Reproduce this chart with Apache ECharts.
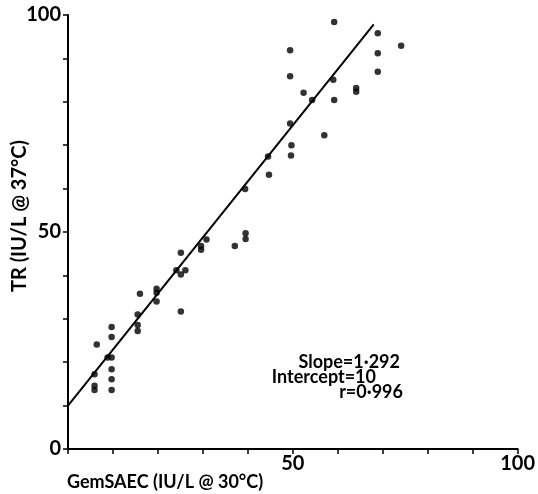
<!DOCTYPE html>
<html>
<head>
<meta charset="utf-8">
<script src="https://cdn.jsdelivr.net/npm/echarts@6/dist/echarts.min.js"></script>
<style>
  html, body { margin: 0; padding: 0; background: #fff; }
  #chart { width: 538px; height: 494px; }
</style>
</head>
<body>
<div id="chart"></div>
<script>
// GemSAEC activity (IU/L at 30 °C) for each sample
const gemSaec = [
  5.9, 5.9, 5.9, 6.4, 8.8, 9.7, 9.7, 9.7, 9.7, 9.7, 9.7,
  15.5, 15.5, 15.5, 16.0, 19.7, 19.7, 19.7,
  24.1, 25.1, 25.1, 25.1, 26.1, 29.6, 29.6, 30.8,
  37.1, 39.4, 39.5, 39.5, 44.5, 44.7,
  49.4, 49.4, 49.4, 49.6, 49.7, 52.4, 54.3, 57.0,
  59.0, 59.2, 59.2, 64.1, 64.1, 68.9, 68.9, 68.9, 74.1
];
// Matching TR activity (IU/L at 37 °C)
const trValues = [
  13.6, 14.6, 17.2, 24.1, 21.1, 13.6, 16.1, 18.4, 21.1, 25.8, 28.1,
  27.2, 28.6, 31.0, 35.8, 34.0, 36.0, 36.9,
  41.2, 31.7, 40.2, 45.2, 41.2, 45.9, 46.8, 48.3,
  46.8, 59.9, 48.4, 49.7, 67.4, 63.2,
  75.0, 85.9, 91.9, 67.6, 70.0, 82.1, 80.4, 72.3,
  85.1, 80.4, 98.4, 82.3, 83.2, 86.9, 91.2, 95.8, 92.9
];
// Least-squares fit reported on the plot
const fitSlope = 1.292;
const fitIntercept = 10;
const fitR = 0.996;
const fitXRange = [0, 68];
// Values that carry a printed tick label
const xTickLabels = [50, 100];
const yTickLabels = [0, 50, 100];

const fitLine = fitXRange.map(x => [x, fitIntercept + fitSlope * x]);
const points = gemSaec.map((x, i) => [x, trValues[i]]);

const FONT = 'Lato';
const ink = '#000';

const chart = echarts.init(document.getElementById('chart'), null, { renderer: 'canvas' });
chart.setOption({
  backgroundColor: '#fff',
  animation: false,
  grid: { left: 68, right: 20, top: 15, bottom: 45, containLabel: false },
  xAxis: {
    type: 'value', min: 0, max: 100, interval: 10,
    splitLine: { show: false },
    axisLine: { lineStyle: { color: ink, width: 2 } },
    axisTick: { inside: false, length: 5, lineStyle: { color: ink, width: 1.5 } },
    axisLabel: {
      margin: 5, color: ink, fontFamily: FONT, fontSize: 20, fontWeight: 'bold',
      showMinLabel: true, showMaxLabel: true,
      formatter: v => xTickLabels.includes(v) ? String(v) : ''
    }
  },
  yAxis: {
    type: 'value', min: 0, max: 100, interval: 10,
    splitLine: { show: false },
    axisLine: { lineStyle: { color: ink, width: 2 } },
    axisTick: { inside: false, length: 5, lineStyle: { color: ink, width: 1.5 } },
    axisLabel: {
      margin: 7, color: ink, fontFamily: FONT, fontSize: 20, fontWeight: 'bold',
      showMinLabel: true, showMaxLabel: true,
      formatter: v => yTickLabels.includes(v) ? String(v) : ''
    }
  },
  series: [
    {
      type: 'line', data: fitLine, symbol: 'none',
      lineStyle: { color: ink, width: 2 }, z: 2
    },
    {
      type: 'scatter', data: points, symbol: 'circle', symbolSize: 6.5,
      itemStyle: { color: ink }, z: 3
    }
  ],
  graphic: [
    {
      type: 'text', x: 20, y: 216, rotation: Math.PI / 2,
      style: {
        text: 'TR (IU/L @ 37°C)', fill: ink, font: `bold 20px ${FONT}`,
        align: 'center', verticalAlign: 'middle'
      }
    },
    {
      type: 'text', x: 67, y: 482,
      style: {
        text: 'GemSAEC (IU/L @ 30°C)', fill: ink, font: `bold 18px ${FONT}`,
        align: 'left', verticalAlign: 'middle'
      }
    },
    {
      type: 'text', x: 400, y: 362,
      style: {
        text: 'Slope=1·' + String(fitSlope).split('.')[1], fill: ink, font: `bold 18px ${FONT}`,
        align: 'right', verticalAlign: 'middle'
      }
    },
    {
      type: 'text', x: 376, y: 377,
      style: {
        text: 'Intercept=' + fitIntercept, fill: ink, font: `bold 18px ${FONT}`,
        align: 'right', verticalAlign: 'middle'
      }
    },
    {
      type: 'text', x: 403, y: 392,
      style: {
        text: 'r=0·' + String(fitR).split('.')[1], fill: ink, font: `bold 18px ${FONT}`,
        align: 'right', verticalAlign: 'middle'
      }
    }
  ]
});
</script>
</body>
</html>
